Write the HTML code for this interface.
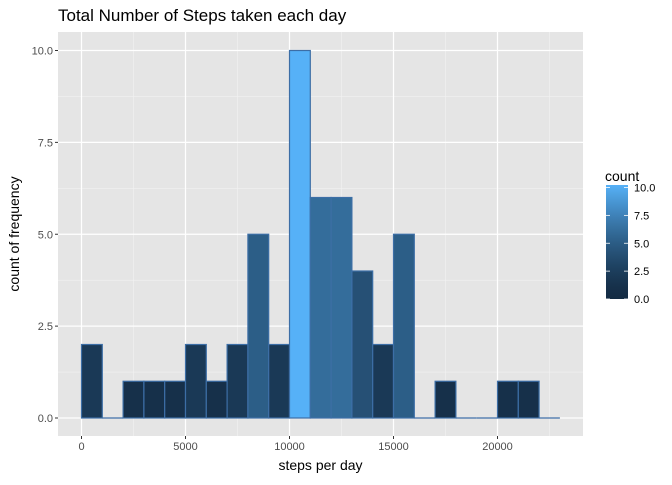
<!DOCTYPE html>
<html><head><meta charset="utf-8"><style>
body{margin:0;background:#fff}
svg text{font-family:"Liberation Sans",sans-serif}
</style></head><body>
<svg id="c" width="672" height="480">
<defs><linearGradient id="g" x1="0" y1="1" x2="0" y2="0" id2="grad"></linearGradient></defs>
</svg>
<script>
const binStarts=[0,1000,2000,3000,4000,5000,6000,7000,8000,9000,10000,11000,12000,13000,14000,15000,16000,17000,18000,19000,20000,21000,22000];
const counts=[2,0,1,1,1,2,1,2,5,2,10,6,6,4,2,5,0,1,0,0,1,1,0];
const binWidth=1000;
const xTicks=[0,5000,10000,15000,20000];
const yTicks=[0,2.5,5,7.5,10];
const legendTicks=[0,2.5,5,7.5,10];
const NS="http://www.w3.org/2000/svg",svg=document.getElementById('c');
const PL=58,PR=583,PT=32,PB=436;
const X=v=>81.5+v*0.0208, Y=v=>418-v*36.75;
function mk(t,a,p){const e=document.createElementNS(NS,t);for(const k in a)e.setAttribute(k,a[k]);(p||svg).appendChild(e);return e;}
function col(c){const t=Math.pow(Math.max(c,0)/10,1.4);const a=[19,43,67],b=[86,177,247];return `rgb(${a.map((v,i)=>Math.round(v+(b[i]-v)*t)).join(',')})`;}
const grad=document.getElementById('g');
for(let i=0;i<=10;i++){mk('stop',{offset:i/10,'stop-color':col(i)},grad);}
const panel=mk('rect',{x:PL,y:PT,width:PR-PL,height:PB-PT,fill:'#E5E5E5'});

for(let i=0;i<xTicks.length;i++){const m=xTicks[i]+2500;const x=X(m);if(x<PR){const l=mk('line',{x1:x,x2:x,y1:PT,y2:PB,stroke:'#F2F2F2','stroke-width':0.6});}}
for(let i=0;i<yTicks.length;i++){const m=yTicks[i]+1.25;const y=Y(m);if(y>PT){const l=mk('line',{x1:PL,x2:PR,y1:y,y2:y,stroke:'#F2F2F2','stroke-width':0.6});}}
xTicks.forEach(v=>{const x=X(v);const l=mk('line',{x1:x,x2:x,y1:PT,y2:PB,stroke:'#fff','stroke-width':1.2});
const tk=mk('line',{x1:x,x2:x,y1:PB,y2:PB+3,stroke:'#333'});
const t=mk('text',{x:x,y:PB+14,'text-anchor':'middle','font-size':11,fill:'#4D4D4D'});t.textContent=v;});
yTicks.forEach(v=>{const y=Y(v);const l=mk('line',{x1:PL,x2:PR,y1:y,y2:y,stroke:'#fff','stroke-width':1.2});
const tk=mk('line',{x1:PL-3,x2:PL,y1:y,y2:y,stroke:'#333'});
const t=mk('text',{x:PL-5,y:y+4,'text-anchor':'end','font-size':11,fill:'#4D4D4D'});t.textContent=v.toFixed(1);});
binStarts.forEach((s,i)=>{const x0=X(s),x1=X(s+binWidth),y=Y(counts[i]);
if(counts[i]>0){
const r=mk('rect',{x:x0,y:y,width:x1-x0,height:Y(0)-y,fill:col(counts[i]),stroke:'#3C6EA6','stroke-width':1.2});

}else{
const r=mk('line',{x1:x0,x2:x1,y1:y,y2:y,stroke:'#3C6EA6','stroke-width':1.2});
}});
const title=mk('text',{x:58,y:21,'font-size':17,fill:'#000'});title.textContent='Total Number of Steps taken each day';
const xt=mk('text',{x:(PL+PR)/2,y:470,'text-anchor':'middle','font-size':14,fill:'#000'});xt.textContent='steps per day';
const yt=mk('text',{x:0,y:0,'text-anchor':'middle','font-size':14,fill:'#000',transform:`translate(19,${(PT+PB)/2}) rotate(-90)`});yt.textContent='count of frequency';
const lt=mk('text',{x:605,y:181,'font-size':14,fill:'#000'});lt.textContent='count';
const bar=mk('rect',{x:606,y:185,width:22,height:114,fill:'url(#g)'});
legendTicks.forEach(v=>{const y=299-v*11.15;
const a=mk('line',{x1:606,x2:610,y1:y,y2:y,stroke:'#fff','stroke-width':0.8});
const b=mk('line',{x1:624,x2:628,y1:y,y2:y,stroke:'#fff','stroke-width':0.8});
const t=mk('text',{x:634,y:y+4,'font-size':11,fill:'#000'});t.textContent=v.toFixed(1);});
</script>
</body></html>
